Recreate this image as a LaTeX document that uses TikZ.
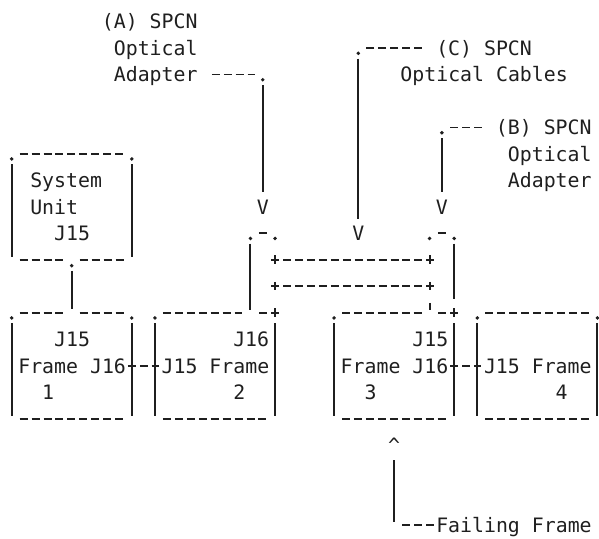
\documentclass[tikz,border=0pt]{standalone}
\usepackage{fontspec}
\usepackage{xcolor}
\usepackage{tikz}
\usetikzlibrary{calc}
\newfontfamily\asciifont{DejaVu Sans Mono}
\definecolor{ink}{gray}{0.12}

\begin{document}
\begin{tikzpicture}[x=0.2388cm,y=-0.53cm,
	txt/.style={font=\asciifont\fontsize{11.3pt}{15pt}\selectfont, text=ink, inner sep=0pt, text height=8.24pt, text depth=0pt, anchor=west},
	ln/.style={draw=ink, line width=1.1pt},
	hd/.style={ln, dash pattern=on 0.16cm off 0.0788cm},
	boxn/.style={inner sep=0pt, minimum width=2.388cm, minimum height=2.12cm},
	plug/.style={inner sep=0pt, minimum width=0.4776cm, minimum height=1.59cm}]
	\useasboundingbox (-1.005,-0.811) rectangle (49.16,19.49);
	
	% nhãn phía trên
	\node[txt] (labA1) at (7.5,0) {(A) SPCN};
	\node[txt] (labA2) at (8.5,1) {Optical};
	\node[txt] (labA3) at (8.5,2) {Adapter};
	\node[txt] (labC1) at (35.5,1) {(C) SPCN};
	\node[txt] (labC2) at (32.5,2) {Optical Cables};
	\node[txt] (labB1) at (40.5,4) {(B) SPCN};
	\node[txt] (labB2) at (41.5,5) {Optical};
	\node[txt] (labB3) at (41.5,6) {Adapter};
	
	% mũi tên chữ V và ^
	\node[txt,anchor=center] (vA) at (21,7) {V};
	\node[txt,anchor=center] (vC) at (29,8) {V};
	\node[txt,anchor=center] (vB) at (36,7) {V};
	\node[txt,anchor=center] (up) at (32,16) {\textasciicircum};
	
	% các khung
	\node[boxn] (su) at (5,7) {};
	\node[boxn] (f1) at (5,13) {};
	\node[boxn] (f2) at (17,13) {};
	\node[boxn] (f3) at (32,13) {};
	\node[boxn] (f4) at (44,13) {};
	\node[plug] (plugL) at (21,9.5) {};
	\node[plug] (plugR) at (36,9.5) {};
	
	% chữ trong khung
	\node[txt] (su1) at (1.5,6) {System};
	\node[txt] (su2) at (1.5,7) {Unit};
	\node[txt] (su3) at (3.5,8) {J15};
	\node[txt] (f1a) at (3.5,12) {J15};
	\node[txt] (f1b) at (0.5,13) {Frame J16};
	\node[txt] (f1c) at (2.5,14) {1};
	\node[txt] (f2a) at (18.5,12) {J16};
	\node[txt] (f2b) at (12.5,13) {J15 Frame};
	\node[txt] (f2c) at (18.5,14) {2};
	\node[txt] (f3a) at (33.5,12) {J15};
	\node[txt] (f3b) at (27.5,13) {Frame J16};
	\node[txt] (f3c) at (29.5,14) {3};
	\node[txt] (f4b) at (39.5,13) {J15 Frame};
	\node[txt] (f4c) at (45.5,14) {4};
	\node[txt] (fail) at (35.5,19) {Failing Frame};
	
	% cạnh đứng và cạnh dưới
	\foreach \b in {su,f1,f2,f3,f4} {
		\draw[ln] ($(\b.north west)+(0,0.4)$) -- ($(\b.south west)+(0,-0.12)$);
		\draw[ln] ($(\b.north east)+(0,0.4)$) -- ($(\b.south east)+(0,-0.12)$);
	}
	\foreach \b in {f1,f2,f3,f4}
		\draw[hd] ($(\b.south west)+(0.67,0)$) -- ($(\b.south east)+(-0.67,0)$);
	\draw[hd] ($(su.south west)+(0.67,0)$) -- ++(3.66,0);
	\draw[hd] ($(su.south)+(0.67,0)$) -- ($(su.south east)+(-0.67,0)$);
	
	% cạnh trên
	\foreach \b in {su,f4}
		\draw[hd] ($(\b.north west)+(0.67,0)$) -- ($(\b.north east)+(-0.67,0)$);
	\draw[hd] ($(f1.north west)+(0.67,0)$) -- ++(3.66,0);
	\draw[hd] ($(f1.north)+(0.67,0)$) -- ($(f1.north east)+(-0.67,0)$);
	\foreach \b in {f2,f3} {
		\draw[hd] ($(\b.north west)+(0.67,0)$) -- ++(6.66,0);
		\draw[hd] ($(\b.north east)+(-1.33,0)$) -- ($(\b.north east)+(0.33,0)$);
		\draw[ln] ($(\b.north east)+(0,-0.16)$) -- ++(0,0.32);
	}
	
	% đầu nối quang
	\foreach \b in {plugL,plugR}
		\draw[ln] ($(\b.north)+(-0.33,0)$) -- ++(0.66,0);
	\draw[ln] ($(plugL.north west)+(0,0.4)$) -- ($(plugL.south west)+(0,-0.12)$);
	\draw[ln] ($(plugR.north east)+(0,0.4)$) -- ($(plugR.south east)+(0,-0.55)$);
	\draw[ln] ($(plugR.south west)+(0,-0.4)$) -- ($(plugR.south west)+(0,-0.12)$);
	
	% cáp quang
	\foreach \dy in {1,2} {
		\draw[hd] ($(plugL.north east)+(-0.33,\dy)$) -- ($(plugR.north west)+(0.33,\dy)$);
		\draw[ln] ($(plugL.north east)+(0,\dy-0.16)$) -- ++(0,0.32);
		\draw[ln] ($(plugR.north west)+(0,\dy-0.16)$) -- ++(0,0.32);
	}
	
	% nối các khung
	\draw[ln, shorten <=0.212cm, shorten >=0.064cm] (su.south) -- (f1.north);
	\draw[hd] ($(f1.east)+(-0.33,0)$) -- ($(f2.west)+(0.33,0)$);
	\draw[hd] ($(f3.east)+(-0.33,0)$) -- ($(f4.west)+(0.33,0)$);
	
	% đường dẫn nhãn
	\coordinate (kA) at (21,2);
	\coordinate (kC) at (29,1);
	\coordinate (kB) at (36,4);
	\coordinate (kF) at (32,19);
	\draw[hd, shorten <=0.2794cm, shorten >=0.16cm] (labA3.east) -- (kA);
	\draw[ln, shorten <=0.212cm, shorten >=0.2915cm] (kA) -- (vA.center);
	\draw[hd, shorten <=0.2794cm, shorten >=0.16cm] (labC1.west) -- (kC);
	\draw[ln, shorten <=0.212cm, shorten >=0.2915cm] (kC) -- (vC.center);
	\draw[hd, shorten <=0.2794cm, shorten >=0.16cm] (labB1.west) -- (kB);
	\draw[ln, shorten <=0.212cm, shorten >=0.2915cm] (kB) -- (vB.center);
	\draw[hd, shorten <=0.0406cm, shorten >=0.16cm] (fail.west) -- (kF);
	\draw[ln, shorten <=0.064cm, shorten >=0.2915cm] (kF) -- (up.center);
	
	% các dấu chấm góc
	\foreach \p in {su.north west,su.north east,su.south,f1.north west,f1.north east,
		f2.north west,f3.north west,f4.north west,f4.north east,
		plugL.north west,plugL.north east,plugR.north west,plugR.north east,kA,kC,kB}
		\fill[ink] ($(\p)+(0,0.2)$) circle (1.1pt);
\end{tikzpicture}
\end{document}
